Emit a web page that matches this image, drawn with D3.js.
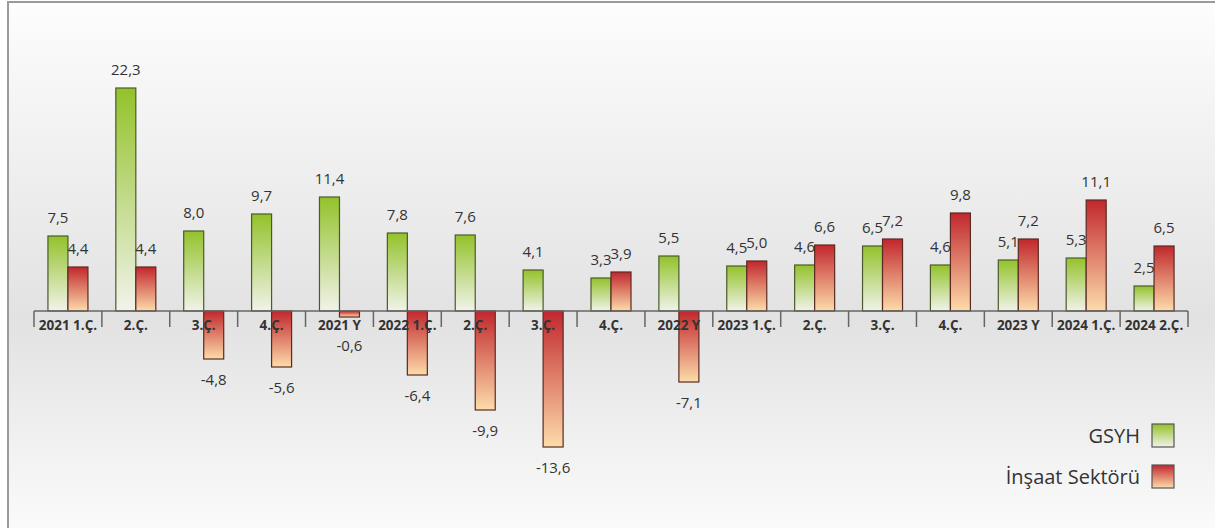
<!DOCTYPE html>
<html>
<head>
<meta charset="utf-8">
<script src="https://cdn.jsdelivr.net/npm/d3@7/dist/d3.min.js"></script>
<style>
  html, body { margin: 0; padding: 0; background: #fff; }
  svg { display: block; }
  text { font-family: "Open Sans", "Noto Sans", sans-serif; fill: #333; }
</style>
</head>
<body>
<div id="chart"></div>
<script>
const categories = ['2021 1.Ç.', '2.Ç.', '3.Ç.', '4.Ç.', '2021 Y', '2022 1.Ç.', '2.Ç. ', '3.Ç. ', '4.Ç. ', '2022 Y',
                    '2023 1.Ç.', '2.Ç.  ', '3.Ç.  ', '4.Ç.  ', '2023 Y', '2024 1.Ç.', '2024 2.Ç.'];
const gsyh = [7.5, 22.3, 8.0, 9.7, 11.4, 7.8, 7.6, 4.1, 3.3, 5.5, 4.5, 4.6, 6.5, 4.6, 5.1, 5.3, 2.5];
const insaat = [4.4, 4.4, -4.8, -5.6, -0.6, -6.4, -9.9, -13.6, 3.9, -7.1, 5.0, 6.6, 7.2, 9.8, 7.2, 11.1, 6.5];
const seriesNames = ['GSYH', 'İnşaat Sektörü'];

const width = 1215;
const height = 528;
const fmt = v => (v < 0 ? '-' : '') + d3.format('.1f')(Math.abs(v)).replace('.', ',');

const svg = d3.select('#chart')
              .append('svg')
              .attr('width', width)
              .attr('height', height);

const defs = svg.append('defs');
const bg = defs.append('linearGradient').attr('id', 'bg').attr('x1', 0).attr('y1', 0).attr('x2', 0).attr('y2', 1);
bg.append('stop').attr('offset', '0%').attr('stop-color', '#fdfdfd');
bg.append('stop').attr('offset', '59%').attr('stop-color', '#e2e2e2');
bg.append('stop').attr('offset', '100%').attr('stop-color', '#fcfcfc');

const gGreen = defs.append('linearGradient').attr('id', 'green').attr('x1', 0).attr('y1', 0).attr('x2', 0).attr('y2', 1);
gGreen.append('stop').attr('offset', '0%').attr('stop-color', '#93c22a');
gGreen.append('stop').attr('offset', '100%').attr('stop-color', '#f1f3ea');

const gRed = defs.append('linearGradient').attr('id', 'red').attr('x1', 0).attr('y1', 0).attr('x2', 0).attr('y2', 1);
gRed.append('stop').attr('offset', '0%').attr('stop-color', '#c1272d');
gRed.append('stop').attr('offset', '100%').attr('stop-color', '#fddcaa');

// frame
svg.append('rect')
   .attr('x', 8).attr('y', 2)
   .attr('width', width).attr('height', height + 10)
   .attr('fill', 'url(#bg)')
   .attr('stroke', '#9a9a9a')
   .attr('stroke-width', 2);

const xScale = d3.scaleBand()
                 .domain(categories)
                 .range([34, 1188]);

const bw = xScale.bandwidth();
const xSub = d3.scaleBand()
               .domain(seriesNames)
               .range([bw / 2 - 20, bw / 2 + 20]);

const yScale = d3.scaleLinear()
                 .domain([-15, 25])
                 .range([461, 61]);

const rows = categories.map((c, i) => ({ cat: c, values: [gsyh[i], insaat[i]] }));

const groups = svg.selectAll('.group')
                  .data(rows)
                  .enter()
                  .append('g')
                  .attr('class', 'group')
                  .attr('transform', d => `translate(${xScale(d.cat)}, 0)`);

const bars = groups.selectAll('.bar')
                   .data(d => d.values.map((v, j) => ({ key: seriesNames[j], v })))
                   .enter();

bars.append('rect')
    .attr('class', 'bar')
    .attr('x', d => xSub(d.key))
    .attr('y', d => yScale(Math.max(0, d.v)))
    .attr('width', xSub.bandwidth())
    .attr('height', d => Math.abs(yScale(d.v) - yScale(0)))
    .attr('fill', d => d.key === 'GSYH' ? 'url(#green)' : 'url(#red)')
    .attr('stroke', d => d.key === 'GSYH' ? '#4a5a2c' : '#5a2a22')
    .attr('stroke-width', 1.2);

// negative labels are kept clear of the category labels
bars.append('text')
    .attr('x', d => xSub(d.key) + xSub.bandwidth() / 2)
    .attr('y', d => d.v >= 0 ? yScale(d.v) - 13 : Math.max(yScale(d.v) + 26, yScale(0) + 40))
    .attr('text-anchor', 'middle')
    .attr('font-size', 15)
    .text(d => fmt(d.v));

// axis
const xAxis = d3.axisBottom(xScale)
                .tickSize(0)
                .tickPadding(9);

const axisG = svg.append('g')
                 .attr('transform', `translate(0, ${yScale(0)})`)
                 .call(xAxis);
axisG.select('.domain').remove();
axisG.selectAll('text')
     .attr('font-size', 13.5)
     .attr('font-weight', 'bold')
     .attr('fill', '#333')
     .style('font-family', '"Open Sans", sans-serif')
     .text(d => d.trim());

axisG.append('line')
     .attr('x1', xScale.range()[0]).attr('x2', xScale.range()[1])
     .attr('stroke', '#666').attr('stroke-width', 1.5);

const boundaries = categories.map(c => xScale(c)).concat([xScale.range()[1]]);
axisG.selectAll('.tk')
     .data(boundaries)
     .enter()
     .append('line')
     .attr('class', 'tk')
     .attr('x1', d => d).attr('x2', d => d)
     .attr('y1', 0).attr('y2', 16)
     .attr('stroke', '#666').attr('stroke-width', 1.5);

// legend
const legend = svg.append('g');
seriesNames.forEach((name, i) => {
    const y = 424 + i * 41;
    legend.append('rect')
          .attr('x', 1152).attr('y', y)
          .attr('width', 22).attr('height', 23)
          .attr('fill', i === 0 ? 'url(#green)' : 'url(#red)')
          .attr('stroke', '#555').attr('stroke-width', 1.2);
    legend.append('text')
          .attr('x', 1140).attr('y', y + 19)
          .attr('text-anchor', 'end')
          .attr('font-size', 20)
          .attr('fill', '#333')
          .text(name);
});
</script>
</body>
</html>
